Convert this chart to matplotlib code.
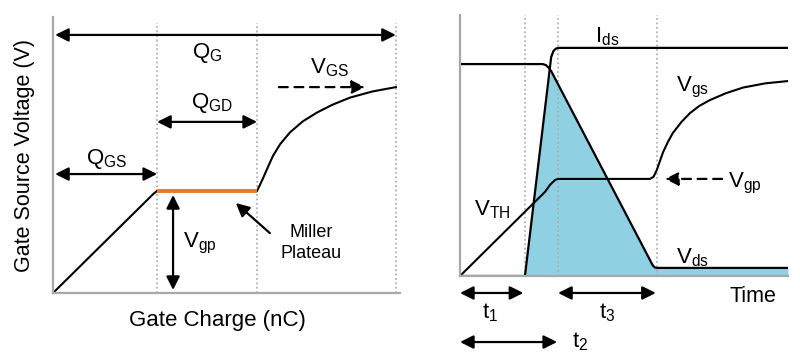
import matplotlib
matplotlib.use("Agg")
import matplotlib.pyplot as plt
import numpy as np

plt.rcParams['font.family'] = ['Liberation Sans', 'DejaVu Sans']
plt.rcParams['mathtext.fontset'] = 'custom'
plt.rcParams['mathtext.rm'] = 'Liberation Sans'

# Gate charge curve (left), charge in nC-like units, voltage in V-like units
q_gs, q_gd, q_g = 3.0, 5.88, 9.88
rise_q = [0.0, 2.9, 3.0]
rise_v = [0.0, 3.6, 3.7]
plateau_q = [3.0, 5.88]
plateau_v = [3.7, 3.7]
tail_q = [5.88, 5.95, 6.05, 6.2, 6.34, 6.55, 6.83, 7.2, 7.61, 8.05, 8.56, 9.2, 9.88]
tail_v = [3.70, 3.88, 4.15, 4.58, 4.97, 5.40, 5.82, 6.22, 6.54, 6.82, 7.08, 7.30, 7.46]

# Switching waveforms (right), time units
t_marks = [1.98, 2.99, 6.0]
ids_t = [0.0, 1.98, 2.78, 2.85, 2.92, 3.0, 10.0]
ids_v = [0.0, 0.0, 8.39, 8.62, 8.71, 8.74, 8.74]
vds_t = [0.0, 2.52, 2.62, 2.7, 2.78, 5.88, 5.95, 6.02, 10.0]
vds_v = [8.12, 8.12, 8.08, 7.98, 7.85, 0.40, 0.32, 0.31, 0.31]
vgs_t = [0.0, 2.59, 2.75, 2.9, 2.99, 5.79, 5.9, 6.0, 6.1, 6.19, 6.34, 6.49, 6.75, 7.01,
         7.3, 7.62, 8.1, 8.63, 9.3, 10.0]
vgs_v = [0.0, 3.22, 3.50, 3.68, 3.72, 3.72, 3.80, 4.06, 4.42, 4.74, 5.14, 5.48, 5.90, 6.24,
         6.52, 6.74, 7.00, 7.22, 7.38, 7.47]

AX_GREY = '#a8a8a8'
FILL = '#8fd0e3'
ORANGE = '#ec7a25'

fig = plt.figure(figsize=(8, 3.58), dpi=100)
ax1 = fig.add_axes([0.06625, 0.18156, 0.43375, 0.77095])
ax2 = fig.add_axes([0.575, 0.22905, 0.41, 0.72905])

for ax in (ax1, ax2):
    ax.set_xlim(0, 10)
    ax.set_ylim(0, 10)
    ax.set_xticks([])
    ax.set_yticks([])
    for s in ('top', 'right'):
        ax.spines[s].set_visible(False)
    for s in ('left', 'bottom'):
        ax.spines[s].set_color(AX_GREY)
        ax.spines[s].set_linewidth(1.6)


def darrow(ax, x0, y0, x1, y1, style='<|-|>', ls='-'):
    ax.annotate('', xy=(x1, y1), xytext=(x0, y0), annotation_clip=False,
                arrowprops=dict(arrowstyle=style, color='black', lw=1.6,
                                linestyle=ls, mutation_scale=20,
                                shrinkA=0, shrinkB=0))


def lab(ax, x, y, s, size=16):
    ax.text(x, y, s, fontsize=size, ha='center', va='center', clip_on=False)


# ---- left panel ----
for x in (q_gs, q_gd, q_g):
    ax1.axvline(x, color=AX_GREY, ls=':', lw=1.2, ymax=0.98)
ax1.plot(rise_q, rise_v, color='black', lw=1.5)
ax1.plot(tail_q, tail_v, color='black', lw=1.5)
ax1.plot(plateau_q, plateau_v, color=ORANGE, lw=2.8, solid_capstyle='butt')

darrow(ax1, 0.06, 9.35, q_g, 9.35)
lab(ax1, 4.44, 8.7, r'$\mathregular{Q_G}$')
darrow(ax1, 6.51, 7.46, 8.99, 7.46, style='-|>', ls=(0, (4, 3)))
lab(ax1, 7.98, 8.15, r'$\mathregular{V_{GS}}$')
darrow(ax1, q_gs, 6.2, q_gd, 6.2)
lab(ax1, 4.58, 6.88, r'$\mathregular{Q_{GD}}$')
darrow(ax1, 0.06, 4.31, q_gs, 4.31)
lab(ax1, 1.56, 4.86, r'$\mathregular{Q_{GS}}$')
darrow(ax1, 3.46, 3.55, 3.46, 0.11)
lab(ax1, 4.24, 1.81, r'$\mathregular{V_{gp}}$')
darrow(ax1, 6.25, 2.17, 5.27, 3.26, style='-|>')
ax1.text(7.43, 1.81, 'Miller\nPlateau', fontsize=13, ha='center', va='center',
         linespacing=1.25)
lab(ax1, 4.73, -0.98, 'Gate Charge (nC)', 16)
ax1.text(-0.81, 5.0, 'Gate Source Voltage (V)', fontsize=15.5, ha='center',
         va='center', rotation=90)

# ---- right panel ----
for x in t_marks:
    ax2.axvline(x, color=AX_GREY, ls=':', lw=1.2)
tt = np.array(sorted(set(ids_t + vds_t)))
ids_i = np.interp(tt, ids_t, ids_v)
vds_i = np.interp(tt, vds_t, vds_v)
ax2.fill_between(tt, 0, np.minimum(ids_i, vds_i), color=FILL, lw=0)
ax2.plot(vgs_t, vgs_v, color='black', lw=1.5)
ax2.plot(ids_t, ids_v, color='black', lw=1.6)
ax2.plot(vds_t, vds_v, color='black', lw=1.6)

lab(ax2, 4.48, 9.16, r'$\mathregular{I_{ds}}$')
lab(ax2, 7.1, 7.24, r'$\mathregular{V_{gs}}$')
darrow(ax2, 7.99, 3.72, 6.25, 3.72, style='-|>', ls=(0, (4, 3)))
lab(ax2, 8.69, 3.56, r'$\mathregular{V_{gp}}$')
lab(ax2, 0.98, 2.53, r'$\mathregular{V_{TH}}$')
lab(ax2, 7.1, 0.69, r'$\mathregular{V_{ds}}$')
lab(ax2, 8.93, -0.77, 'Time', 15.5)

darrow(ax2, 0.0, -0.65, 1.93, -0.65)
lab(ax2, 0.91, -1.42, r'$\mathregular{t_1}$')
darrow(ax2, 2.99, -0.65, 5.97, -0.65)
lab(ax2, 4.48, -1.42, r'$\mathregular{t_3}$')
darrow(ax2, 0.0, -2.53, 2.96, -2.53)
lab(ax2, 3.65, -2.53, r'$\mathregular{t_2}$')

fig.savefig('out.png', dpi=100)
